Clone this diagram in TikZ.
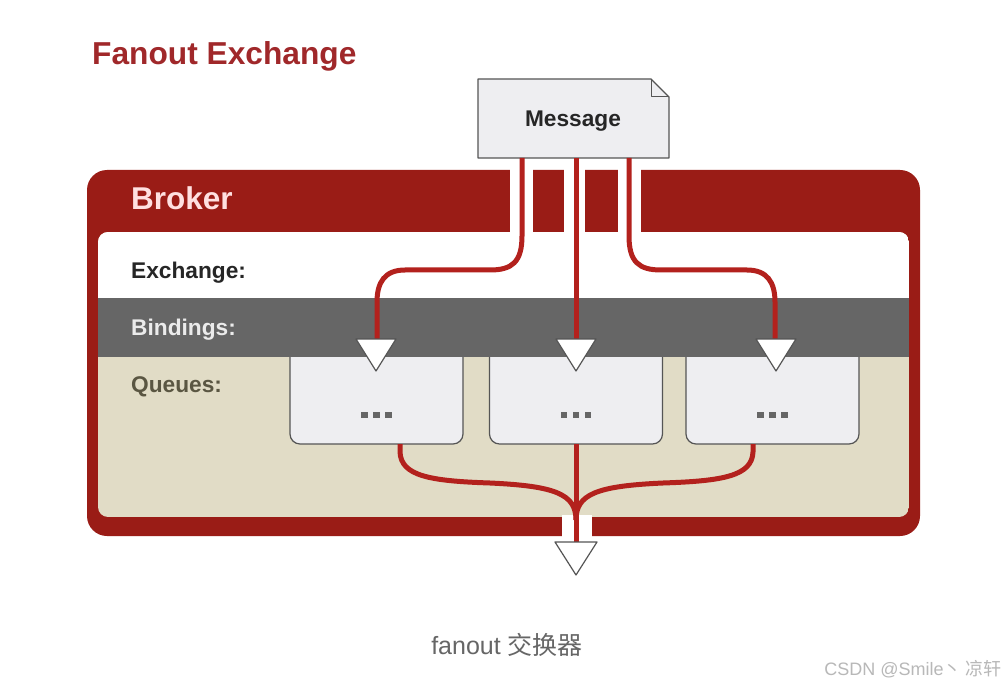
\documentclass[tikz,border=0pt]{standalone}
\usepackage{fontspec}
\setmainfont{Liberation Sans}
\newfontfamily\cjk{Noto Sans CJK SC}
\definecolor{brokerred}{HTML}{9A1C16}
\definecolor{linered}{HTML}{B3211D}
\definecolor{titlered}{HTML}{A0282A}
\definecolor{bandgrey}{HTML}{666666}
\definecolor{beige}{HTML}{E1DCC6}
\definecolor{boxfill}{HTML}{EEEEF1}
\definecolor{boxline}{HTML}{555555}
\definecolor{queuetext}{HTML}{5A5642}
\tikzset{
  flow/.style={draw=linered, line width=5pt},
  tri/.style={fill=white, draw=boxline, line width=1.2pt, line join=round},
  queuebox/.style={draw=boxline, fill=boxfill, line width=1.2pt, rounded corners=10pt, minimum width=173pt, minimum height=104pt, inner sep=0pt},
  lbl/.style={inner sep=0pt, font=\bfseries\fontsize{22.7}{26}\selectfont}
}
\begin{document}
\begin{tikzpicture}[x=1pt,y=-1pt]
\useasboundingbox[fill=white] (0,0) rectangle (1007,687);
% title
\node[anchor=base west, inner sep=0pt, text=titlered, font=\bfseries\fontsize{31.7}{36}\selectfont] (title) at (92,65) {Fanout Exchange};
% broker frame
\fill[brokerred, rounded corners=20pt] (87,170) rectangle (920,536);
\begin{scope}
  \clip[rounded corners=10pt] (98,232) rectangle (909,517);
  \fill[beige] (98,232) rectangle (909,517);
  % queue boxes
  \node[queuebox] (q1) at (376.5,392) {};
  \node[queuebox] (q2) at (576,392) {};
  \node[queuebox] (q3) at (772.5,392) {};
  \fill[white] (98,232) rectangle (909,298);
  \fill[bandgrey] (98,298) rectangle (909,357);
\end{scope}
% gaps in the frame
\fill[white] (510,165) rectangle (533,233);
\fill[white] (564,165) rectangle (585,233);
\fill[white] (618,165) rectangle (641,233);
\fill[white] (562,515) rectangle (592,540);
% labels
\node[anchor=base west, inner sep=0pt, text=white!88!red, font=\bfseries\fontsize{31.5}{36}\selectfont] (broker) at (131,210) {Broker};
\node[lbl, anchor=base west, text=black!85] (exch) at (131,278) {Exchange:};
\node[lbl, anchor=base west, text=white!92!black] (bind) at (131,335) {Bindings:};
\node[lbl, anchor=base west, text=queuetext] (queues) at (131,392) {Queues:};
% message
\draw[fill=boxfill, draw=boxline, line width=1.2pt, line join=round] (478,79) -- (651,79) -- (669,97) -- (669,158) -- (478,158) -- cycle;
\draw[draw=boxline, line width=1pt, line join=round] (651,79) -- (651,97) -- (669,97);
\node[inner sep=0pt, anchor=base, text=black!85, font=\bfseries\fontsize{22.7}{26}\selectfont] (msg) at (573,127) {Message};
\coordinate (m1) at (522,158);
\coordinate (m2) at (576,158);
\coordinate (m3) at (629,158);
% arrow tops
\coordinate (a1) at (376,339);
\coordinate (a2) at (576,339);
\coordinate (a3) at (776,339);
\coordinate (aout) at (576,542);
% flows from message to queues
\draw[flow] (m1) -- (522,236) .. controls (522,262) and (512,270) .. (490,270) -- (405,270) .. controls (385,270) and (377,282) .. (377,302) -- ([xshift=1pt]a1);
\draw[flow] (m2) -- (a2);
\draw[flow] (m3) -- (629,236) .. controls (629,262) and (639,270) .. (661,270) -- (747,270) .. controls (767,270) and (775,282) .. (775,302) -- ([xshift=-1pt]a3);
% flows from queues to output
\draw[flow] (400,444) -- (400,452) .. controls (401,476) and (430,481) .. (490,483) .. controls (555,486) and (576,494) .. (576,520);
\draw[flow] (753,444) -- (753,452) .. controls (752,476) and (723,481) .. (663,483) .. controls (597,486) and (576,494) .. (576,520);
\draw[flow] (576,444) -- (aout);
% triangles
\foreach \c in {a1,a2,a3}{
  \draw[tri] ([xshift=-20pt]\c) -- ([xshift=20pt]\c) -- ([yshift=-32pt]\c) -- cycle;
}
\draw[tri] ([xshift=-21pt]aout) -- ([xshift=21pt]aout) -- ([yshift=-33pt]aout) -- cycle;
% dots
\foreach \q in {q1,q2,q3}{
  \foreach \dx in {-12,0,12}{
    \fill[bandgrey] ([xshift=\dx pt, yshift=-23pt]\q.center) ++(-3.2,-3.2) rectangle ++(6.4,6.4);
  }
}
% caption
\node[anchor=base, inner sep=0pt, text=black!60, font=\fontsize{25}{29}\selectfont] (cap) at (507,654) {fanout {\cjk 交换器}};
\node[anchor=base east, inner sep=0pt, text=black!28, font=\fontsize{18}{21}\selectfont] (wm) at (1002,675) {CSDN @Smile{\cjk 丶 凉轩}};
\end{tikzpicture}
\end{document}
